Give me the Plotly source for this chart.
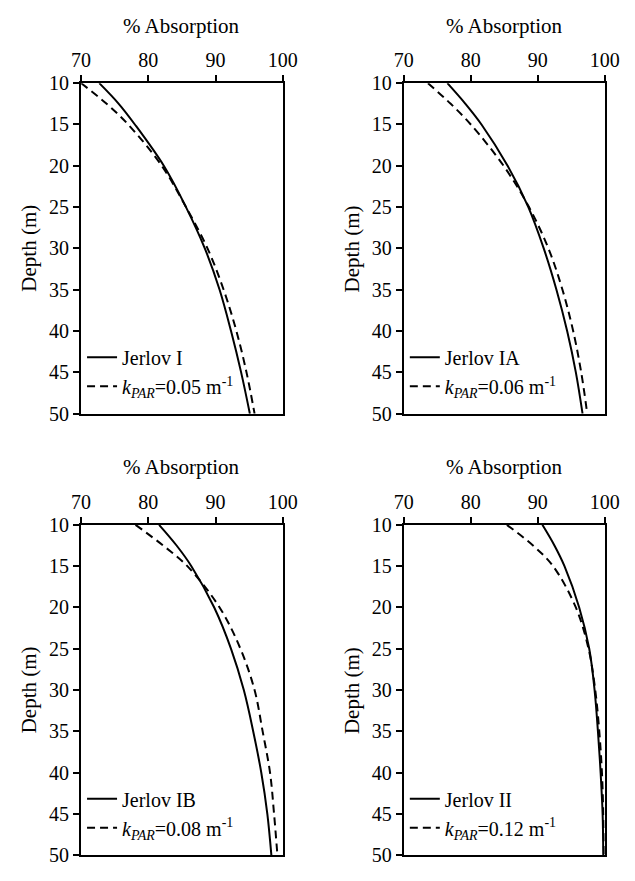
import plotly.graph_objects as go

depth = [10, 12.5, 15, 20, 25, 30, 35, 40, 45, 50]

jerlov_I = [72.7, 75.6, 78.0, 82.3, 85.6, 88.4, 90.6, 92.3, 93.8, 95.1]
kpar_005 = [70.0, 73.8, 77.0, 82.0, 85.6, 88.8, 91.2, 93.1, 94.6, 95.8]

jerlov_IA = [76.5, 79.2, 81.6, 85.5, 88.6, 90.9, 92.8, 94.4, 95.7, 96.7]
kpar_006 = [73.6, 77.0, 80.0, 84.9, 88.7, 91.6, 93.7, 95.3, 96.5, 97.4]

jerlov_IB = [81.6, 84.2, 86.4, 89.8, 92.3, 94.2, 95.6, 96.8, 97.7, 98.3]
kpar_008 = [78.1, 82.2, 85.8, 90.6, 93.7, 95.8, 97.0, 98.1, 98.7, 99.2]

jerlov_II = [90.7, 92.5, 94.0, 96.2, 97.7, 98.5, 99.0, 99.4, 99.7, 99.8]
kpar_012 = [85.4, 89.3, 92.3, 95.7, 97.6, 98.6, 99.2, 99.6, 99.8, 99.9]

panels = [
    ("Jerlov I", jerlov_I, "<i>k</i><sub><i>PAR</i></sub>=0.05 m<sup>-1</sup>", kpar_005),
    ("Jerlov IA", jerlov_IA, "<i>k</i><sub><i>PAR</i></sub>=0.06 m<sup>-1</sup>", kpar_006),
    ("Jerlov IB", jerlov_IB, "<i>k</i><sub><i>PAR</i></sub>=0.08 m<sup>-1</sup>", kpar_008),
    ("Jerlov II", jerlov_II, "<i>k</i><sub><i>PAR</i></sub>=0.12 m<sup>-1</sup>", kpar_012),
]

x_ticks = [70, 80, 90, 100]
y_ticks = [10, 15, 20, 25, 30, 35, 40, 45, 50]

W, H = 635, 881
FONT = "Liberation Serif"

# pixel boxes for the plot areas (left, right, top, bottom)
boxes = [(74, 284, 74, 413), (410, 619, 74, 413), (74, 284, 527, 866), (410, 619, 527, 866)]

fig = go.Figure()
layout = dict(
    width=W, height=H, margin=dict(l=0, r=0, t=0, b=0),
    paper_bgcolor="white", plot_bgcolor="white",
    font=dict(family=FONT, size=20, color="black"),
    annotations=[],
)

for i, (name1, s1, name2, s2) in enumerate(panels):
    n = "" if i == 0 else str(i + 1)
    lg = "legend" if i == 0 else "legend" + str(i + 1)
    fig.add_trace(go.Scatter(x=s1, y=depth, mode="lines", name=name1,
                             line=dict(color="black", width=2, shape="spline"),
                             xaxis="x" + n, yaxis="y" + n, legend=lg))
    fig.add_trace(go.Scatter(x=s2, y=depth, mode="lines", name=name2,
                             line=dict(color="black", width=2, dash="8px,5px", shape="spline"),
                             xaxis="x" + n, yaxis="y" + n, legend=lg))
    l, r, t, b = boxes[i]
    layout["xaxis" + n] = dict(
        domain=[l / W, r / W], range=[70, 100], side="top", anchor="y" + n,
        tickvals=x_ticks, ticks="outside", ticklen=6, tickwidth=2, tickcolor="black",
        showline=True, linewidth=2, linecolor="black", mirror=True,
        showgrid=False, zeroline=False, tickfont=dict(family=FONT, size=20, color="black"),
    )
    layout["yaxis" + n] = dict(
        domain=[1 - b / H, 1 - t / H], range=[50, 10], anchor="x" + n,
        tickvals=y_ticks, ticks="outside", ticklen=6, tickwidth=2, tickcolor="black",
        showline=True, linewidth=2, linecolor="black", mirror=True,
        showgrid=False, zeroline=False, tickfont=dict(family=FONT, size=20, color="black"),
    )
    layout[lg] = dict(
        x=(l + 1) / W, y=1 - (b - 78) / H, xanchor="left", yanchor="top",
        bgcolor="rgba(0,0,0,0)", borderwidth=0, tracegroupgap=0,
        font=dict(family=FONT, size=20, color="black"),
    )
    layout["annotations"].append(dict(
        text="% Absorption", x=(l + r) / 2 / W, y=1 - (t - 59) / H,
        xref="paper", yref="paper", showarrow=False, xanchor="center", yanchor="middle",
        font=dict(family=FONT, size=21, color="black")))
    layout["annotations"].append(dict(
        text="Depth (m)", x=(l - 54) / W, y=1 - ((t + b) / 2) / H, textangle=-90,
        xref="paper", yref="paper", showarrow=False, xanchor="center", yanchor="middle",
        font=dict(family=FONT, size=21, color="black")))

fig.update_layout(**layout)
fig.write_html("out.html")
